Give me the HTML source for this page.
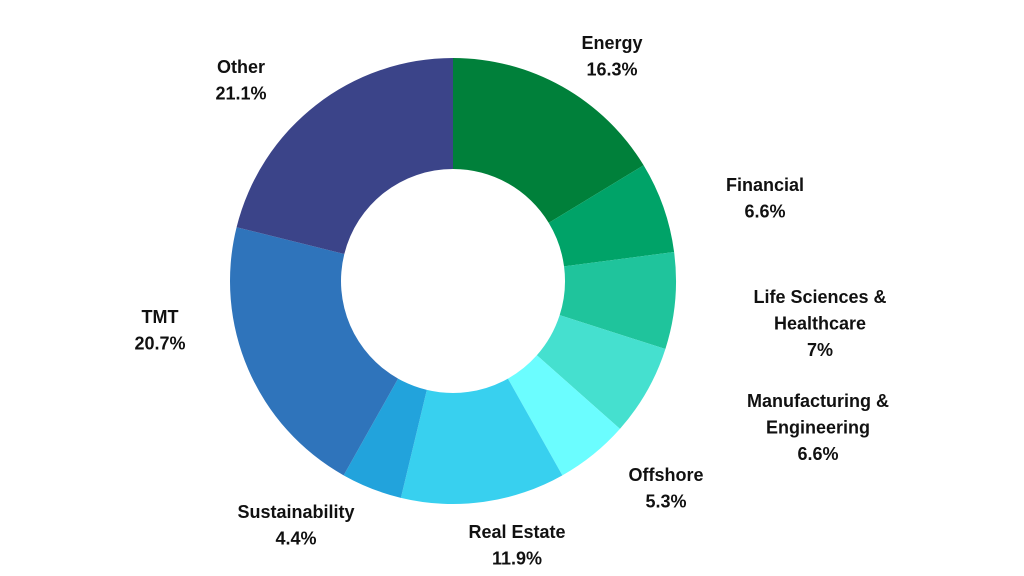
<!DOCTYPE html>
<html><head><meta charset="utf-8"><style>
html,body{margin:0;padding:0;background:#fff;width:1024px;height:576px;overflow:hidden}
svg text{font-family:"Liberation Sans",sans-serif;font-weight:bold;font-size:18px;fill:#111}
</style></head><body>
<svg id="chart" width="1024" height="576" viewBox="0 0 1024 576"></svg>
<script>
const categories=["Energy","Financial","Life Sciences & Healthcare","Manufacturing & Engineering","Offshore","Real Estate","Sustainability","TMT","Other"];
const values=[16.3,6.6,7,6.6,5.3,11.9,4.4,20.7,21.1];
const valueLabels=["16.3%","6.6%","7%","6.6%","5.3%","11.9%","4.4%","20.7%","21.1%"];
const colors=["#00803a","#00a368","#1fc49c","#45e0cf","#6bfdff","#38d0ef","#22a3dc","#2f74bb","#3b4489"];
const labelLines=[["Energy"],["Financial"],["Life Sciences &","Healthcare"],["Manufacturing &","Engineering"],["Offshore"],["Real Estate"],["Sustainability"],["TMT"],["Other"]];
const labelPos=[[612,49],[765,191],[820,303],[818,407],[666,481],[517,538],[296,518],[160,323],[241,73]];
const cx=453,cy=281,R=223,r=112;
const svg=document.getElementById('chart');
const NS="http://www.w3.org/2000/svg";
const total=values.reduce((a,b)=>a+b,0);
function pt(rad,a){return [cx+rad*Math.sin(a),cy-rad*Math.cos(a)];}
let acc=0;
values.forEach((v,i)=>{
  const a0=acc/total*2*Math.PI; acc+=v; const a1=acc/total*2*Math.PI;
  const large=(a1-a0)>Math.PI?1:0;
  const p0=pt(R,a0),p1=pt(R,a1),q1=pt(r,a1),q0=pt(r,a0);
  const d=`M${p0[0]},${p0[1]}A${R},${R} 0 ${large} 1 ${p1[0]},${p1[1]}L${q1[0]},${q1[1]}A${r},${r} 0 ${large} 0 ${q0[0]},${q0[1]}Z`;
  const path=document.createElementNS(NS,'path');
  path.setAttribute('d',d);path.setAttribute('fill',colors[i]);
  
  
  svg.appendChild(path);
  const t=document.createElementNS(NS,'text');
  t.setAttribute('text-anchor','middle');
  
  
  const lines=labelLines[i].concat([valueLabels[i]]);
  lines.forEach((ln,j)=>{
    const ts=document.createElementNS(NS,'tspan');
    ts.setAttribute('x',labelPos[i][0]);
    ts.setAttribute('y',labelPos[i][1]+j*26.5);
    ts.textContent=ln;
    t.appendChild(ts);
  });
  svg.appendChild(t);
});
</script>
</body></html>
